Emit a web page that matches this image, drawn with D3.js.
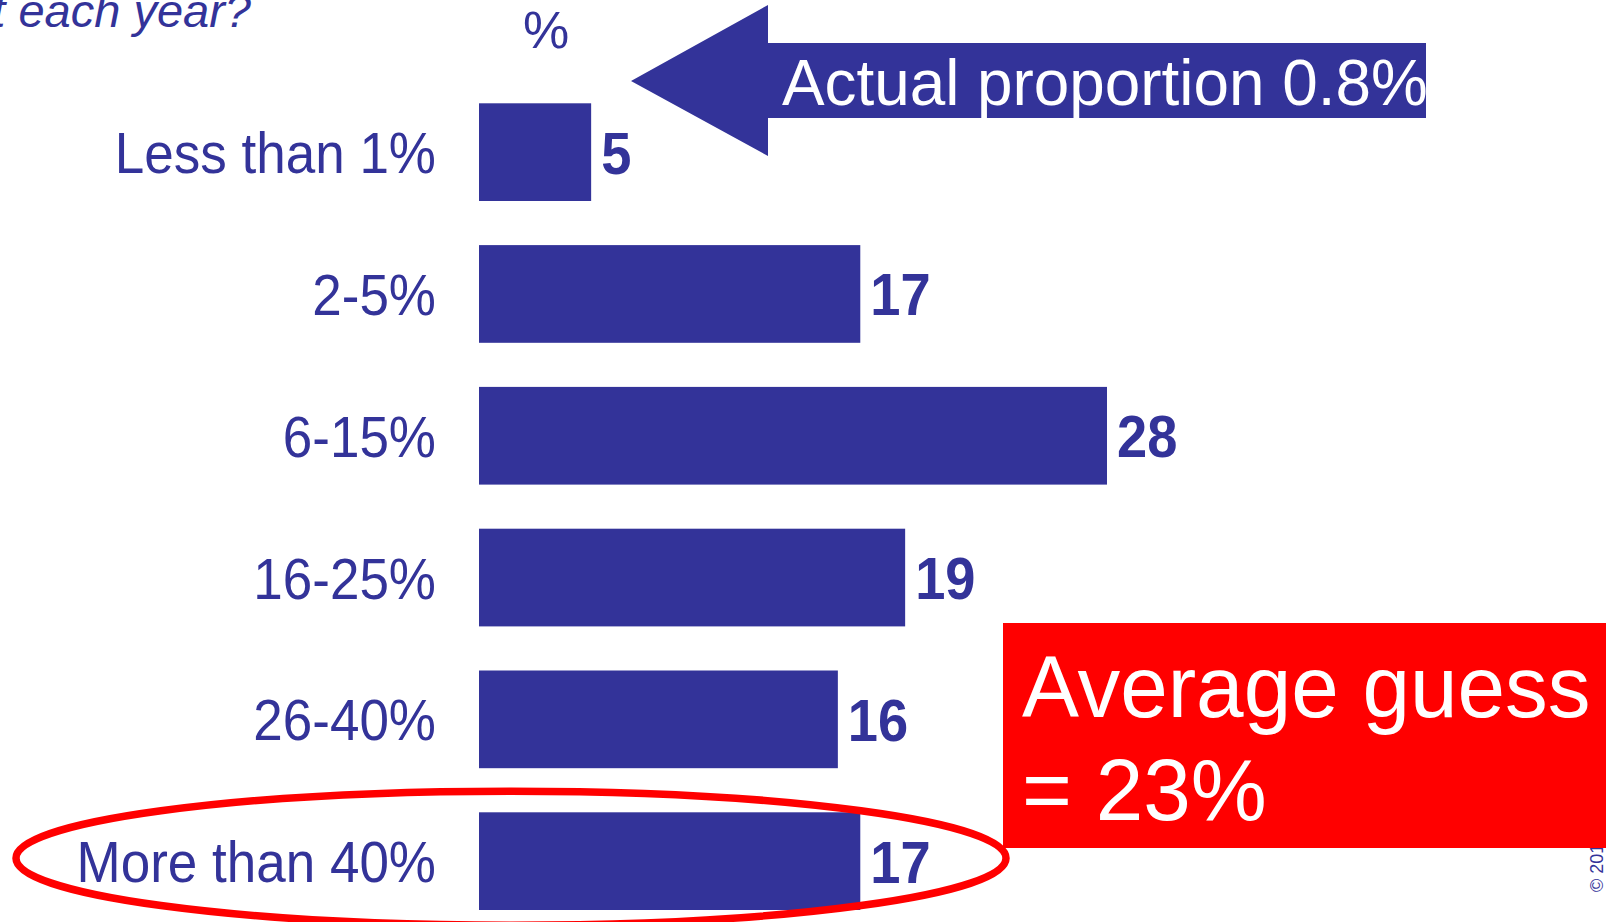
<!DOCTYPE html>
<html>
<head>
<meta charset="utf-8">
<script src="https://cdn.jsdelivr.net/npm/d3@7"></script>
<style>
  html, body { margin: 0; padding: 0; background: #ffffff; overflow: hidden; }
  svg { display: block; }
  text { font-family: "Liberation Sans", Arial, sans-serif; }
</style>
</head>
<body>
<svg id="chart" width="1606" height="922"></svg>
<script>
// Survey answers: share of respondents choosing each range (%)
const categories = ["Less than 1%", "2-5%", "6-15%", "16-25%", "26-40%", "More than 40%"];
const values = [5, 17, 28, 19, 16, 17];
const actualProportion = 0.8;
const averageGuess = 23;
const highlighted = "More than 40%";

const BLUE = "#333399";
const RED = "#ff0000";

const svg = d3.select("#chart");

const x = d3.scaleLinear().domain([0, 28]).range([479, 1107]);
const y = d3.scaleBand().domain(categories).range([103.3, 910]).paddingInner(0.311).paddingOuter(0);

// Question (continues off the left edge) and unit marker
svg.append("text")
  .attr("x", 251).attr("y", 27)
  .attr("text-anchor", "end")
  .attr("font-style", "italic")
  .attr("font-size", 47)
  .attr("fill", BLUE)
  .text("t each year?");

svg.append("text")
  .attr("x", 546).attr("y", 48)
  .attr("text-anchor", "middle")
  .attr("font-size", 52)
  .attr("fill", BLUE)
  .text("%");

// Bars
svg.append("g").selectAll("rect")
  .data(values)
  .join("rect")
  .attr("x", x(0))
  .attr("y", (d, i) => y(categories[i]))
  .attr("width", d => x(d) - x(0))
  .attr("height", y.bandwidth())
  .attr("fill", BLUE);

// Category labels (narrow face)
svg.append("g").selectAll("text")
  .data(categories)
  .join("text")
  .attr("transform", d => `translate(436,${y(d) + y.bandwidth() / 2 + 21}) scale(0.93,1)`)
  .attr("text-anchor", "end")
  .attr("font-size", 57)
  .attr("fill", BLUE)
  .text(d => d);

// Value labels
svg.append("g").selectAll("text")
  .data(values)
  .join("text")
  .attr("transform", (d, i) => `translate(${x(d) + 10},${y(categories[i]) + y.bandwidth() / 2 + 21.5}) scale(0.92,1)`)
  .attr("font-size", 59)
  .attr("font-weight", "bold")
  .attr("fill", BLUE)
  .text(d => d);

// Arrow callout with the real figure
const arrow = { tip: [631, 81], headX: 768, headTop: 5, headBottom: 156, shaftTop: 43, shaftBottom: 118, end: 1426 };
svg.append("path")
  .attr("d", d3.line()([
    arrow.tip,
    [arrow.headX, arrow.headTop],
    [arrow.headX, arrow.shaftTop],
    [arrow.end, arrow.shaftTop],
    [arrow.end, arrow.shaftBottom],
    [arrow.headX, arrow.shaftBottom],
    [arrow.headX, arrow.headBottom]
  ]) + "Z")
  .attr("fill", BLUE);

svg.append("text")
  .attr("transform", "translate(782,105) scale(0.982,1)")
  .attr("font-size", 65)
  .attr("fill", "#ffffff")
  .text(`Actual proportion ${actualProportion}%`);

// Copyright note along the right edge (partly under the red box)
svg.append("text")
  .attr("transform", "translate(1603,892) rotate(-90)")
  .attr("font-size", 18)
  .attr("fill", BLUE)
  .text("\u00A9 2013 Ipsos MORI");

// Average guess box
svg.append("rect")
  .attr("x", 1003).attr("y", 623)
  .attr("width", 1606 - 1003).attr("height", 848 - 623)
  .attr("fill", RED);

const avg = svg.append("text")
  .attr("transform", "translate(1022,0) scale(0.982,1)")
  .attr("font-size", 87)
  .attr("fill", "#ffffff");
avg.append("tspan").attr("x", 0).attr("y", 717).text("Average guess");
avg.append("tspan").attr("x", 0).attr("y", 820).text(`= ${averageGuess}%`);

// Ring round the top answer range
const hy = y(highlighted) + y.bandwidth() / 2;
svg.append("ellipse")
  .attr("cx", 511).attr("cy", hy - 3)
  .attr("rx", 495).attr("ry", 67)
  .attr("fill", "none")
  .attr("stroke", RED)
  .attr("stroke-width", 7.5);
</script>
</body>
</html>
